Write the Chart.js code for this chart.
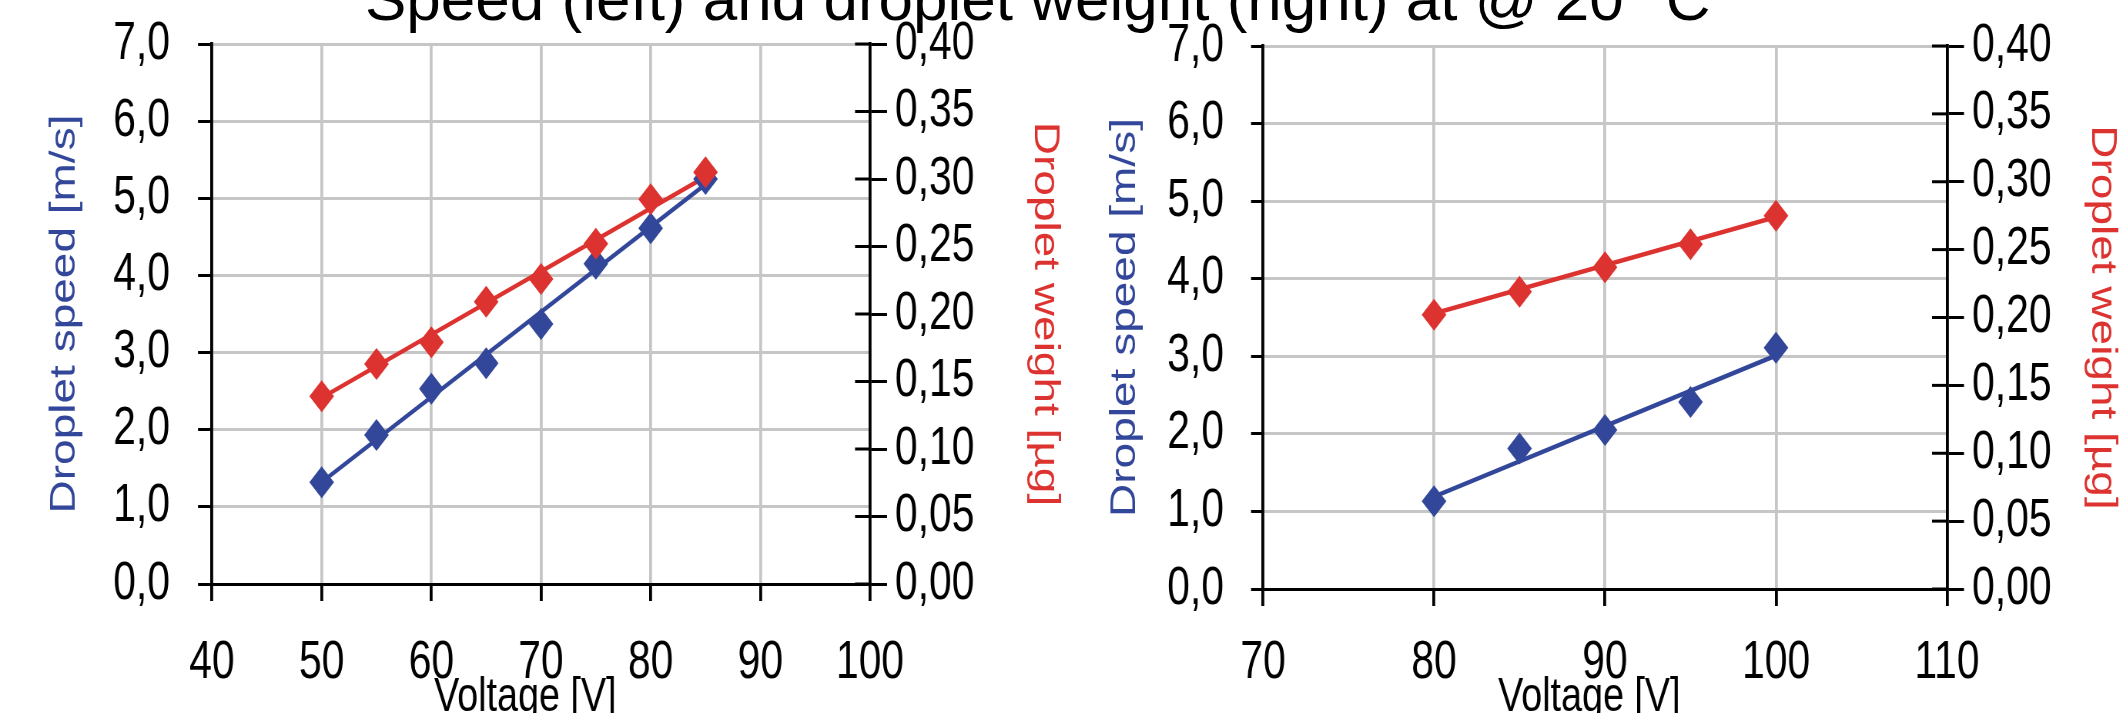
<!DOCTYPE html>
<html lang="en">
<head>
<meta charset="UTF-8">
<title>Droplet speed and weight vs voltage</title>
<script src="https://cdn.jsdelivr.net/npm/chart.js"></script>
<style>
  html, body { margin: 0; padding: 0; background: #fff; overflow: hidden; width: 2120px; height: 713px; }
  body { position: relative; }
  #title {
    position: absolute; left: 365px; top: -34px;
    font-family: 'Liberation Sans', Arial, sans-serif; font-size: 62px; line-height: 66px;
    white-space: nowrap; color: #000;
  }
  /* the original figure is squeezed sideways, so each chart is drawn wider and scaled down */
  .box { position: absolute; top: 0; transform-origin: 0 0; }
</style>
</head>
<body>
<div id="title">Speed (left) and droplet weight (right) at @ 20 °C</div>
<div class="box" id="leftBox"><canvas id="leftChart"></canvas></div>
<div class="box" id="rightBox"><canvas id="rightChart"></canvas></div>

<script>
// left panel: 40-100 V
const leftVoltage = [50, 55, 60, 65, 70, 75, 80, 85];
const leftSpeed   = [1.32, 1.93, 2.53, 2.86, 3.37, 4.15, 4.61, 5.25];
const leftWeight  = [0.139, 0.163, 0.179, 0.209, 0.226, 0.252, 0.285, 0.305];
const leftSpeedTrendX  = [50, 85.8];
const leftSpeedTrend   = [1.32, 5.27];
const leftWeightTrendX = [50, 85.5];
const leftWeightTrend  = [0.138, 0.304];

// right panel: 70-110 V
const rightVoltage = [80, 85, 90, 95, 100];
const rightSpeed   = [1.13, 1.81, 2.05, 2.41, 3.11];
const rightWeight  = [0.202, 0.219, 0.237, 0.254, 0.275];
const rightSpeedTrendX  = [80, 100];
const rightSpeedTrend   = [1.19, 3.01];
const rightWeightTrendX = [80, 100];
const rightWeightTrend  = [0.203, 0.274];

const BLUE = '#33479a';
const RED = '#dd3330';
const GRID = '#c6c6c6';
const FONT = "'Liberation Sans', Arial, sans-serif";
const K = 0.77;          // horizontal squeeze
const H = 740;           // canvas height (bottom part is cut by the page)
const TICK_FONT = 53;
const TITLE_FONT = 46;
const X_TITLE_FONT = 49;

function pts(xs, ys) {
    return xs.map((x, i) => ({ x: x, y: ys[i] }));
}

// short tick marks on the inner side of the right axis
const innerTicks = {
    id: 'innerTicks',
    afterDraw(chart) {
        const s = chart.scales.y1;
        const ctx = chart.ctx;
        const r = chart.chartArea.right;
        ctx.save();
        ctx.strokeStyle = '#000';
        ctx.lineWidth = 3;
        s.ticks.forEach(t => {
            const y = s.getPixelForValue(t.value);
            ctx.beginPath();
            ctx.moveTo(r - 15 / K, y);
            ctx.lineTo(r, y);
            ctx.stroke();
        });
        ctx.restore();
    }
};

// p holds page positions (px) of the panel; they are turned into canvas units here
function makeChart(id, boxId, p) {
    const box = document.getElementById(boxId);
    box.style.left = p.left + 'px';
    box.style.transform = 'scaleX(' + K + ')';
    const canvas = document.getElementById(id);
    canvas.width = Math.round((p.right - p.left) / K);
    canvas.height = H;

    const yWidth = (p.plotL - p.left) / K;
    const y1Width = canvas.width - (p.plotR - p.left) / K;
    const titleLh = TITLE_FONT * 1.2;
    const yTitlePad = (p.yTitleX - p.left) / K - titleLh / 2;
    const y1TitlePad = (p.right - p.y1TitleX) / K - titleLh / 2;
    const xLabelPad = 663 - p.bottom - 17 - TICK_FONT * 0.6;

    return new Chart(canvas.getContext('2d'), {
        type: 'scatter',
        data: {
            datasets: [
                { data: pts(p.voltage, p.weight), yAxisID: 'y1', pointStyle: 'rectRot', pointRadius: 16,
                  backgroundColor: RED, borderWidth: 0, showLine: false },
                { data: pts(p.voltage, p.speed), yAxisID: 'y', pointStyle: 'rectRot', pointRadius: 16,
                  backgroundColor: BLUE, borderWidth: 0, showLine: false },
                { data: pts(p.weightTrendX, p.weightTrend), yAxisID: 'y1', showLine: true, pointRadius: 0,
                  borderColor: RED, borderWidth: 4.5 },
                { data: pts(p.speedTrendX, p.speedTrend), yAxisID: 'y', showLine: true, pointRadius: 0,
                  borderColor: BLUE, borderWidth: 4.5 }
            ]
        },
        options: {
            responsive: false,
            devicePixelRatio: 1,
            animation: false,
            layout: { padding: { top: p.top, left: 0, right: 0, bottom: 0 } },
            plugins: { legend: { display: false }, tooltip: { enabled: false } },
            scales: {
                x: {
                    type: 'linear', position: 'bottom',
                    min: p.xMin, max: p.xMax,
                    ticks: { stepSize: 10, color: '#000', padding: xLabelPad, font: { family: FONT, size: TICK_FONT } },
                    grid: { color: GRID, lineWidth: 3.8, tickColor: '#000', tickLength: 17, tickWidth: 3.8 },
                    border: { color: '#000', width: 3 },
                    // trailing spaces push the title a little left, as in the original
                    title: { display: true, text: 'Voltage [V]\u00a0\u00a0\u00a0', color: '#000',
                             font: { family: FONT, size: X_TITLE_FONT }, padding: { top: 0, bottom: 13 } },
                    afterFit: s => { s.height = H - p.bottom; s.paddingLeft = 0; s.paddingRight = 0; }
                },
                y: {
                    position: 'left', min: 0, max: 7,
                    ticks: { stepSize: 1, color: '#000', padding: p.yLabelGap / K, font: { family: FONT, size: TICK_FONT },
                             callback: v => v.toFixed(1).replace('.', ',') },
                    grid: { color: GRID, lineWidth: 3, tickColor: '#000', tickLength: p.yTick / K, tickWidth: 3 },
                    border: { color: '#000', width: 3.8 },
                    title: { display: true, text: 'Droplet speed [m/s]', color: BLUE,
                             font: { family: FONT, size: TITLE_FONT }, padding: { top: yTitlePad, bottom: 0 } },
                    afterFit: s => { s.width = yWidth; s.paddingTop = 0; s.paddingBottom = 0; }
                },
                y1: {
                    position: 'right', min: 0, max: 0.4,
                    ticks: { stepSize: 0.05, color: '#000', padding: 8 / K, font: { family: FONT, size: TICK_FONT },
                             callback: v => v.toFixed(2).replace('.', ',') },
                    grid: { drawOnChartArea: false, tickColor: '#000', tickLength: 17 / K, tickWidth: 3 },
                    border: { color: '#000', width: 3.8 },
                    title: { display: true, text: 'Droplet weight [µg]', color: RED,
                             font: { family: FONT, size: TITLE_FONT }, padding: { top: y1TitlePad, bottom: 0 } },
                    afterFit: s => { s.width = y1Width; s.paddingTop = 0; s.paddingBottom = 0; }
                }
            }
        },
        plugins: [innerTicks]
    });
}

makeChart('leftChart', 'leftBox', {
    voltage: leftVoltage, speed: leftSpeed, weight: leftWeight,
    speedTrendX: leftSpeedTrendX, speedTrend: leftSpeedTrend,
    weightTrendX: leftWeightTrendX, weightTrend: leftWeightTrend,
    xMin: 40, xMax: 100,
    left: 0, plotL: 212, plotR: 870, right: 1075, top: 44, bottom: 584,
    yTick: 14, yLabelGap: 28, yTitleX: 65, y1TitleX: 1045
});

makeChart('rightChart', 'rightBox', {
    voltage: rightVoltage, speed: rightSpeed, weight: rightWeight,
    speedTrendX: rightSpeedTrendX, speedTrend: rightSpeedTrend,
    weightTrendX: rightWeightTrendX, weightTrend: rightWeightTrend,
    xMin: 70, xMax: 110,
    left: 1085, plotL: 1263, plotR: 1947, right: 2140, top: 46, bottom: 589,
    yTick: 12, yLabelGap: 27, yTitleX: 1125, y1TitleX: 2102
});
</script>
</body>
</html>
